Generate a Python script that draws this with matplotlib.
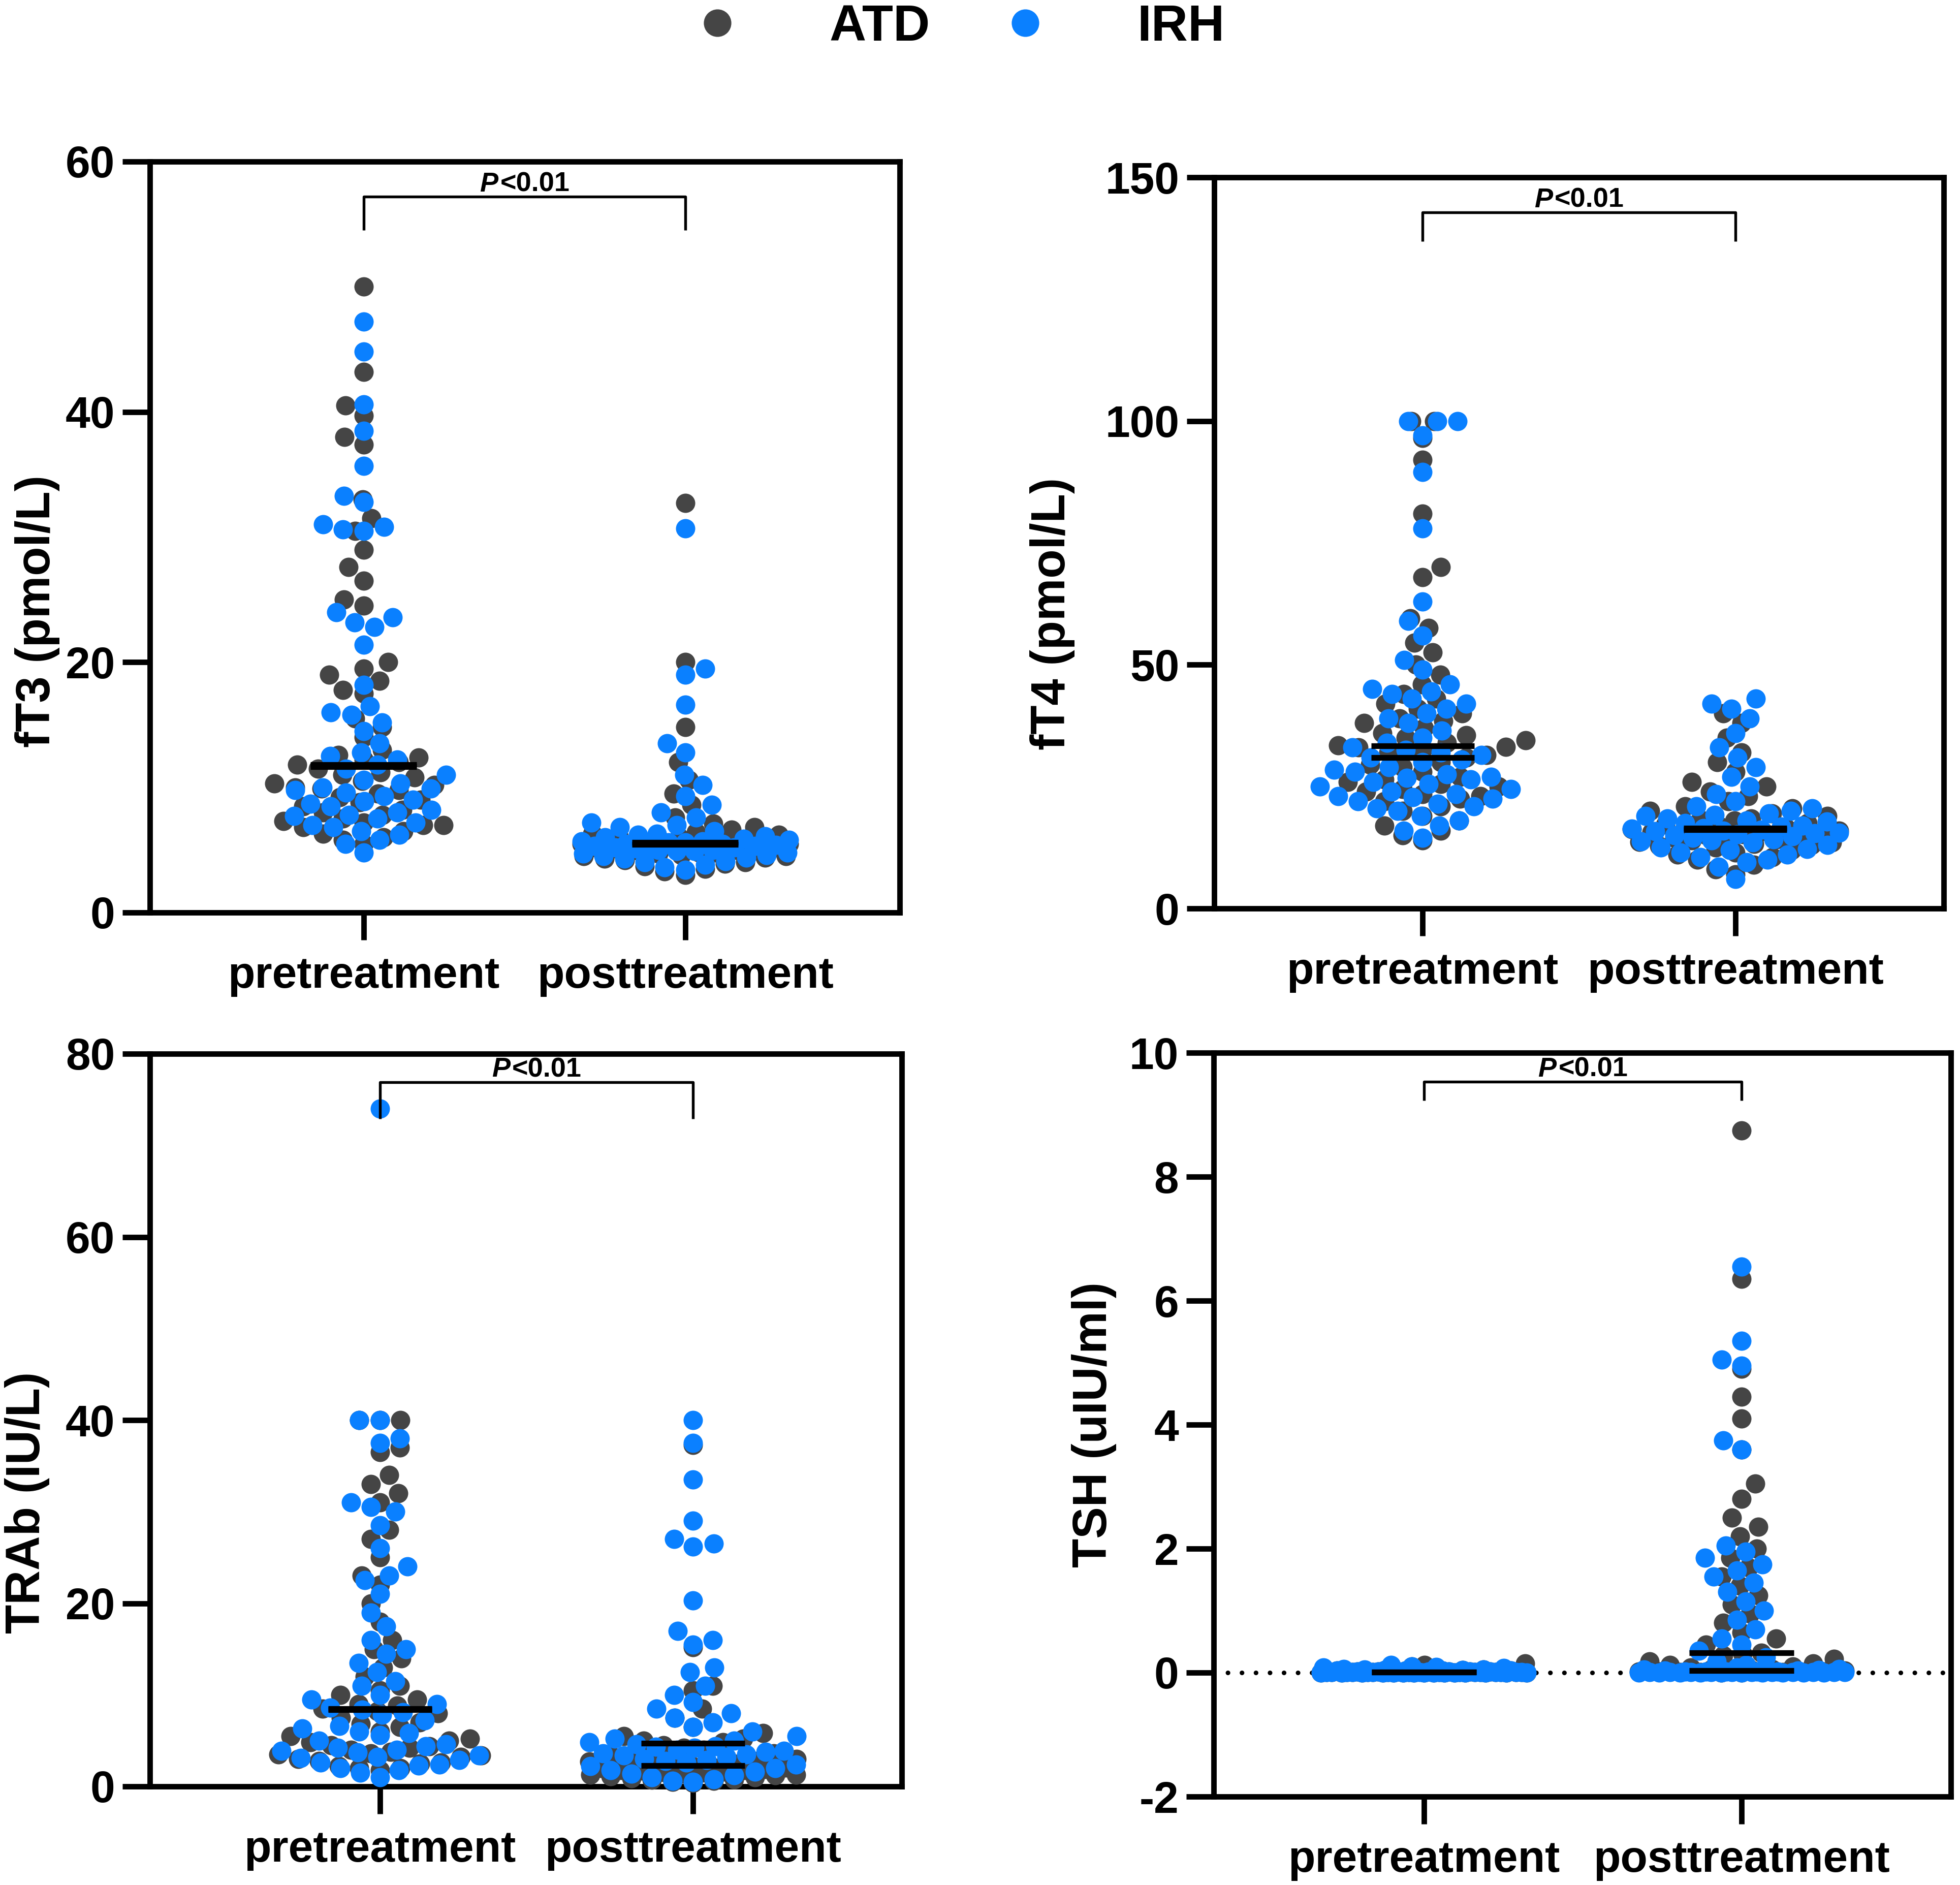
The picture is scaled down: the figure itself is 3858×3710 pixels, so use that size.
import numpy as np
import matplotlib.pyplot as plt
from matplotlib.lines import Line2D

plt.rcParams['font.family'] = ['Liberation Sans', 'DejaVu Sans']
plt.rcParams['font.weight'] = 'bold'
plt.rcParams['axes.unicode_minus'] = False

# groups, colours and categories
groups = ['ATD', 'IRH']
colors = {'ATD': '#454545', 'IRH': '#0A80FF'}
x_labels = ['pretreatment', 'posttreatment']

# ---- fT3 (pmol/L) ----
ft3_atd_pre = [50.0, 43.2, 40.5, 39.7, 38.0, 37.4, 33.0, 31.5, 30.5, 29.0,
               27.6, 26.5, 25.0, 24.5, 20.0, 19.5, 19.0, 18.5, 17.8, 17.5,
               15.5, 14.8, 14.0, 13.0, 12.6, 12.4, 12.2, 12.0, 11.8, 11.5,
               11.2, 11.0, 10.8, 10.5, 10.3, 10.2, 10.0, 9.9, 9.8, 9.5,
               9.2, 9.0, 8.8, 8.5, 8.2, 8.0, 7.8, 7.5, 7.3, 7.2,
               7.0, 7.0, 6.8, 6.5, 6.3, 6.0, 5.8, 5.5]
ft3_irh_pre = [47.2, 44.8, 40.6, 38.5, 35.7, 33.3, 32.8, 31.0, 30.8, 30.6,
               30.5, 24.0, 23.6, 23.2, 22.8, 21.4, 18.2, 16.5, 16.0, 15.8,
               15.2, 14.5, 13.5, 12.8, 12.5, 12.2, 11.8, 11.5, 11.0, 10.6,
               10.3, 10.0, 9.9, 9.8, 9.6, 9.3, 9.0, 8.9, 8.7, 8.5,
               8.2, 8.0, 7.8, 7.7, 7.5, 7.2, 7.0, 6.8, 6.5, 6.2,
               5.8, 5.5, 4.8]
ft3_atd_post = [32.7, 20.0, 14.8, 12.0, 10.6, 9.5, 8.6, 7.6, 7.1, 6.8,
                6.6, 6.4, 6.3, 6.2, 6.1, 6.0, 5.9, 5.8, 5.8, 5.7,
                5.6, 5.6, 5.5, 5.5, 5.5, 5.4, 5.4, 5.3, 5.3, 5.2,
                5.2, 5.1, 5.0, 5.0, 4.9, 4.8, 4.8, 4.7, 4.6, 4.5,
                4.5, 4.4, 4.3, 4.2, 4.0, 3.9, 3.7, 3.5, 3.3, 3.0]
ft3_irh_post = [30.7, 19.5, 19.0, 16.6, 13.5, 12.8, 11.0, 10.2, 9.3, 8.6,
                8.0, 7.6, 7.2, 7.0, 6.8, 6.5, 6.3, 6.2, 6.1, 6.0,
                5.9, 5.8, 5.7, 5.7, 5.6, 5.6, 5.5, 5.5, 5.4, 5.4,
                5.3, 5.3, 5.2, 5.2, 5.1, 5.0, 5.0, 4.9, 4.9, 4.8,
                4.7, 4.6, 4.5, 4.4, 4.3, 4.1, 4.0, 3.8, 3.6, 3.4]

# ---- fT4 (pmol/L) ----
ft4_atd_pre = [100.0, 100.0, 96.5, 92.0, 81.0, 70.0, 68.0, 59.5, 57.5, 54.5,
               52.5, 50.0, 48.0, 46.0, 44.0, 43.0, 42.0, 41.0, 40.0, 39.0,
               38.5, 38.0, 37.0, 36.0, 35.5, 35.0, 34.5, 34.0, 33.5, 33.2,
               33.0, 32.5, 32.0, 31.5, 31.0, 30.0, 29.5, 29.0, 28.0, 27.0,
               26.5, 26.0, 25.5, 25.0, 24.5, 24.0, 23.5, 23.0, 22.5, 22.0,
               21.0, 20.0, 19.0, 18.0, 17.0, 16.0, 15.0, 14.0]
ft4_irh_pre = [100.0, 100.0, 100.0, 97.0, 89.5, 78.0, 63.0, 59.0, 56.0, 51.0,
               49.0, 46.0, 45.0, 44.5, 44.0, 43.0, 42.0, 41.0, 40.0, 39.0,
               38.0, 36.5, 35.0, 34.0, 33.0, 32.5, 32.0, 31.5, 31.0, 30.5,
               30.0, 29.0, 28.5, 28.0, 27.5, 27.0, 26.8, 26.5, 26.0, 25.5,
               25.0, 24.5, 24.0, 23.5, 23.0, 22.8, 22.5, 22.0, 21.5, 21.0,
               20.5, 20.0, 19.0, 18.0, 17.0, 16.0, 14.5]
ft4_atd_post = [40.0, 38.0, 35.0, 32.0, 30.0, 28.0, 26.0, 25.0, 24.0, 23.0,
                22.0, 21.0, 20.5, 20.0, 19.5, 19.0, 18.5, 18.2, 18.0, 17.5,
                17.2, 17.0, 16.8, 16.5, 16.3, 16.0, 15.8, 15.6, 15.5, 15.2,
                15.0, 14.8, 14.6, 14.5, 14.2, 14.0, 13.7, 13.5, 13.2, 13.0,
                12.8, 12.5, 12.0, 11.5, 11.0, 10.5, 10.0, 9.0, 8.0, 7.0]
ft4_irh_post = [43.0, 42.0, 41.0, 39.0, 36.0, 33.0, 31.0, 29.0, 27.0, 25.0,
                23.5, 22.0, 21.0, 20.5, 20.0, 19.5, 19.2, 19.0, 18.5, 18.0,
                17.8, 17.5, 17.0, 16.8, 16.5, 16.4, 16.2, 16.0, 15.8, 15.5,
                15.4, 15.2, 15.0, 14.8, 14.5, 14.2, 14.0, 13.8, 13.5, 13.0,
                12.5, 12.2, 12.0, 11.5, 11.0, 10.5, 10.0, 9.5, 8.5, 6.0]

# ---- TRAb (IU/L) ----
trab_atd_pre = [40.0, 40.0, 40.0, 37.0, 36.5, 34.0, 33.0, 32.0, 31.0, 28.0,
                27.0, 25.0, 23.0, 22.0, 20.0, 18.0, 16.0, 15.0, 14.0, 13.0,
                12.0, 11.0, 10.5, 10.0, 9.5, 9.0, 8.8, 8.5, 8.2, 8.0,
                7.5, 7.0, 6.8, 6.5, 6.0, 5.5, 5.2, 5.0, 4.8, 4.5,
                4.4, 4.2, 4.0, 3.8, 3.6, 3.5, 3.4, 3.2, 3.0, 2.8,
                2.6, 2.5, 2.2, 2.0, 2.0, 1.8]
trab_irh_pre = [74.0, 40.0, 40.0, 38.0, 37.5, 31.0, 30.5, 30.0, 28.5, 26.0,
                24.0, 23.0, 22.5, 21.0, 19.0, 17.5, 16.0, 15.0, 14.5, 13.5,
                12.5, 11.5, 11.0, 10.0, 9.5, 9.0, 8.6, 8.4, 8.1, 7.8,
                7.2, 6.6, 6.3, 6.0, 5.8, 5.6, 5.0, 4.6, 4.4, 4.2,
                4.0, 3.9, 3.7, 3.4, 3.2, 3.1, 2.9, 2.6, 2.4, 2.3,
                2.0, 1.8, 1.5, 1.0]
trab_atd_post = [37.3, 15.2, 11.0, 10.5, 8.5, 7.5, 6.5, 5.8, 5.5, 5.2,
                 5.0, 4.8, 4.5, 4.2, 4.0, 3.6, 3.3, 3.0, 2.8, 2.7,
                 2.6, 2.5, 2.4, 2.3, 2.2, 2.1, 2.05, 2.0, 1.9, 1.8,
                 1.75, 1.7, 1.6, 1.55, 1.5, 1.4, 1.3, 1.25, 1.2, 1.1,
                 1.0, 0.9, 0.8, 0.7, 0.6, 0.5, 0.4]
trab_irh_post = [40.0, 37.5, 33.5, 29.0, 27.0, 26.5, 26.2, 20.3, 17.0, 16.0,
                 15.5, 13.0, 12.5, 11.0, 10.0, 9.2, 8.5, 8.0, 7.5, 7.0,
                 6.5, 6.0, 5.5, 5.2, 5.0, 4.8, 4.6, 4.4, 4.3, 4.2,
                 4.0, 3.9, 3.8, 3.6, 3.5, 3.4, 3.2, 3.0, 2.9, 2.8,
                 2.6, 2.4, 2.2, 2.0, 1.8, 1.6, 1.4, 1.2, 1.0, 0.8,
                 0.6, 0.5]

# ---- TSH (uIU/ml) ----
tsh_atd_pre = [0.15, 0.12, 0.10, 0.08, 0.07, 0.06, 0.05, 0.05, 0.04, 0.04,
               0.04, 0.03, 0.03, 0.03, 0.03, 0.02, 0.02, 0.02, 0.02, 0.02,
               0.02, 0.015, 0.015, 0.01, 0.01, 0.01, 0.01, 0.01, 0.01, 0.01,
               0.01, 0.008, 0.008, 0.007, 0.006, 0.005, 0.005, 0.005, 0.005, 0.004,
               0.004, 0.003, 0.003, 0.003, 0.002, 0.002, 0.002, 0.001, 0.001, 0.0,
               0.0, 0.0, 0.0, 0.0]
tsh_irh_pre = [0.12, 0.10, 0.09, 0.08, 0.07, 0.06, 0.05, 0.05, 0.04, 0.04,
               0.03, 0.03, 0.03, 0.03, 0.02, 0.02, 0.02, 0.02, 0.02, 0.015,
               0.015, 0.01, 0.01, 0.01, 0.01, 0.01, 0.01, 0.01, 0.01, 0.009,
               0.008, 0.008, 0.007, 0.006, 0.005, 0.005, 0.005, 0.005, 0.004, 0.004,
               0.003, 0.003, 0.003, 0.002, 0.002, 0.002, 0.001, 0.001, 0.001, 0.0,
               0.0, 0.0, 0.0]
tsh_atd_post = [8.75, 6.35, 4.9, 4.45, 4.1, 3.6, 3.05, 2.8, 2.5, 2.35,
                2.2, 2.0, 1.85, 1.7, 1.55, 1.4, 1.25, 1.1, 0.95, 0.8,
                0.65, 0.55, 0.45, 0.32, 0.3, 0.28, 0.22, 0.18, 0.15, 0.12,
                0.1, 0.08, 0.06, 0.05, 0.04, 0.03, 0.03, 0.02, 0.02, 0.02,
                0.01, 0.01, 0.01, 0.005, 0.005, 0.0, 0.0]
tsh_irh_post = [6.55, 5.35, 5.05, 4.95, 3.75, 3.6, 2.05, 1.95, 1.85, 1.75,
                1.65, 1.55, 1.45, 1.3, 1.15, 1.0, 0.85, 0.7, 0.55, 0.45,
                0.35, 0.25, 0.18, 0.12, 0.08, 0.06, 0.05, 0.04, 0.03, 0.03,
                0.02, 0.02, 0.02, 0.02, 0.02, 0.01, 0.01, 0.01, 0.01, 0.01,
                0.01, 0.01, 0.005, 0.005, 0.005, 0.005, 0.003, 0.003, 0.002, 0.002,
                0.001, 0.001, 0.0, 0.0, 0.0, 0.0]

W, H, DPI = 3858, 3710, 300
fig = plt.figure(figsize=(W / DPI, H / DPI), dpi=DPI)

DOT_PX = 38            # marker diameter in pixels
DOT_S = (DOT_PX * 72 / DPI) ** 2
HALF_WIDTH_PX = 205    # max spread of a swarm to each side
GAP = 1.05             # centre distance between neighbours, in diameters


def swarm_x(ax, xc, values):
    """Simple beeswarm: returns x offsets (data units) for the values."""
    vals = np.asarray(values, dtype=float)
    pts = ax.transData.transform(np.column_stack([np.full(len(vals), xc), vals]))
    px_per_x = ax.transData.transform([(1, 0)])[0, 0] - ax.transData.transform([(0, 0)])[0, 0]
    ys = pts[:, 1]
    d = DOT_PX * GAP
    steps = np.arange(1.5, HALF_WIDTH_PX + 0.1, 1.5)
    out = np.zeros(len(vals))
    px, py = [], []
    for k, i in enumerate(np.argsort(ys, kind='stable')):
        sign = 1 if k % 2 == 0 else -1
        cand = np.concatenate([[0.0], np.column_stack([sign * steps, -sign * steps]).ravel()])
        x = 0.0
        if px:
            ax_ = np.array(px)
            ay_ = np.array(py)
            near = np.abs(ay_ - ys[i]) < d
            if near.any():
                dist = np.sqrt((cand[:, None] - ax_[near][None, :]) ** 2
                               + (ys[i] - ay_[near])[None, :] ** 2).min(axis=1)
                ok = np.where(dist >= d)[0]
                x = cand[ok[0]] if len(ok) else cand[np.argmax(dist)]
        px.append(x)
        py.append(ys[i])
        out[i] = x / px_per_x
    return out


panels = [
    dict(box=(295, 1771, 318, 1796), xlim=(-0.665, 1.667), ylim=(0, 60), yticks=[0, 20, 40, 60],
         data={'ATD': (ft3_atd_pre, ft3_atd_post), 'IRH': (ft3_irh_pre, ft3_irh_post)},
         bracket=(57.2, 54.5), ylabel='fT3 (pmol/L)', label_xy=(74, 1203)),
    dict(box=(2390, 3826, 349, 1788), xlim=(-0.666, 1.666), ylim=(0, 150), yticks=[0, 50, 100, 150],
         data={'ATD': (ft4_atd_pre, ft4_atd_post), 'IRH': (ft4_irh_pre, ft4_irh_post)},
         bracket=(142.8, 136.9), ylabel='fT4 (pmol/L)', label_xy=(2072, 1208)),
    dict(box=(295, 1775, 2074, 3516), xlim=(-0.735, 1.667), ylim=(0, 80), yticks=[0, 20, 40, 60, 80],
         data={'ATD': (trab_atd_pre, trab_atd_post), 'IRH': (trab_irh_pre, trab_irh_post)},
         bracket=(76.9, 72.9), ylabel='TRAb (IU/L)', label_xy=(54, 2957)),
    dict(box=(2389, 3840, 2072, 3536), xlim=(-0.662, 1.659), ylim=(-2, 10), yticks=[-2, 0, 2, 4, 6, 8, 10],
         data={'ATD': (tsh_atd_pre, tsh_atd_post), 'IRH': (tsh_irh_pre, tsh_irh_post)},
         bracket=(9.53, 9.23), ylabel='TSH (uIU/ml)', label_xy=(2153, 2804), zero_line=True),
]

for p in panels:
    left, right, top, bottom = p['box']
    ax = fig.add_axes([left / W, 1 - bottom / H, (right - left) / W, (bottom - top) / H])
    ax.set_xlim(*p['xlim'])
    ax.set_ylim(*p['ylim'])
    ax.set_xticks([0, 1])
    ax.set_xticklabels(x_labels)
    ax.set_yticks(p['yticks'])
    for s in ax.spines.values():
        s.set_linewidth(2.6)
    ax.tick_params(axis='both', length=13, width=2.6, labelsize=21)
    ax.tick_params(axis='x', pad=7.5)
    ax.tick_params(axis='y', pad=3.5)

    if p.get('zero_line'):
        ax.axhline(0, color='black', lw=2.2, ls=(0, (0.01, 3.0)),
                   dash_capstyle='round', zorder=1)

    for g in groups:
        for xc, vals in enumerate(p['data'][g]):
            offs = swarm_x(ax, xc, vals)
            ax.scatter(xc + offs, vals, s=DOT_S, color=colors[g], linewidths=0,
                       zorder=3 if g == 'ATD' else 4, clip_on=False)
    for g in groups:
        for xc, vals in enumerate(p['data'][g]):
            ax.hlines(np.median(vals), xc - 0.165, xc + 0.165, color='black',
                      lw=2.7, zorder=6)

    ybar, yleg = p['bracket']
    ax.plot([0, 0, 1, 1], [yleg, ybar, ybar, yleg], color='black', lw=1.3,
            zorder=6, clip_on=False, solid_capstyle='butt')
    ax.annotate('P', (0.5, ybar), xytext=(-12.5, 2.5), textcoords='offset points',
                ha='right', va='baseline', fontsize=13, fontstyle='italic')
    ax.annotate('<0.01', (0.5, ybar), xytext=(-11.5, 2.5), textcoords='offset points',
                ha='left', va='baseline', fontsize=13)

    lx, ly = p['label_xy']
    fig.text(lx / W, 1 - ly / H, p['ylabel'], rotation=90, ha='center', va='center',
             fontsize=22.5)

handles = [Line2D([], [], marker='o', ls='', ms=13, color=colors[g], mec='none') for g in groups]
fig.legend(handles, groups, loc='center', bbox_to_anchor=(0.4824, 0.9854), ncol=2,
           frameon=False, fontsize=24, handlelength=2, handletextpad=1.2,
           columnspacing=0.875, borderpad=0, borderaxespad=0)

fig.savefig('out.png', dpi=DPI)
